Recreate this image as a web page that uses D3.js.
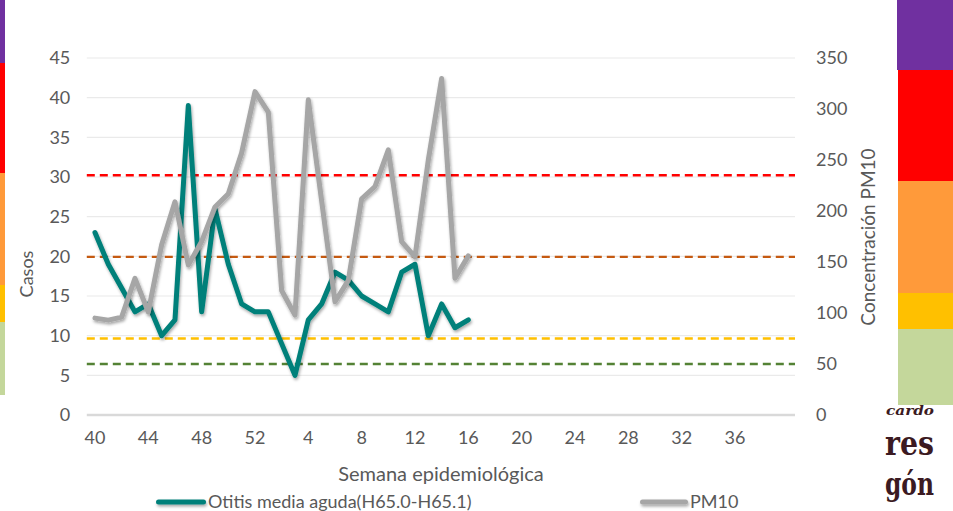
<!DOCTYPE html>
<html><head><meta charset="utf-8">
<script src="https://cdn.jsdelivr.net/npm/d3@7"></script>
<style>
body{margin:0;background:#fff;}
svg{display:block;font-family:Lato, "Open Sans", sans-serif;}
</style></head>
<body>
<svg id="chart" width="953" height="511"></svg>
<script>
// ---- data ----
const weeks = [40,41,42,43,44,45,46,47,48,49,50,51,52,
  1,2,3,4,5,6,7,8,9,10,11,12,13,14,15,16,17,18,19,20,21,22,23,24,25,26,27,28,29,30,31,32,33,34,35,36,37,38,39,40];
const otitis = [23,19,16,13,14,10,12,39,13,26,19,14,13,
  13,9,5,12,14,18,17,15,14,13,18,19,10,14,11,12];
const pm10 = [95,93,96,134,101,167,209,147,170,204,217,257,317,
  297,122,98,309,210,111,132,212,224,260,170,155,250,330,134,156];
const leftTicks = [0,5,10,15,20,25,30,35,40,45];
const rightTicks = [0,50,100,150,200,250,300,350];
const thresholds = [235,155,75,50]; // PM10 reference lines
const thresholdColors = ["#FF0000","#C55A11","#FFC000","#548235"];
const bandColors = ["#7030A0","#FF0000","#FF9A3A","#FFC000","#C4D79B"];
const leftBands = [0,63,173,285,322,395];
const rightBands = [0,70,181,293,329,405];
const seriesNames = ["Otitis media aguda(H65.0-H65.1)","PM10"];

const svg = d3.select("#chart");
const M = {left:88.3, right:795, top:58, bottom:415};

const x = d3.scaleBand().domain(d3.range(weeks.length)).range([M.left, M.right]).padding(0);
const yL = d3.scaleLinear().domain([0,45]).range([M.bottom, M.top]);
const yR = d3.scaleLinear().domain([0,350]).range([M.bottom, M.top]);
const cx = i => x(i) + x.bandwidth()/2;

// side colour strips
leftBands.slice(0,-1).forEach((b,i)=>{
  svg.append("rect").attr("x",0).attr("y",b).attr("width",5).attr("height",leftBands[i+1]-b).attr("fill",bandColors[i]);
});
rightBands.slice(0,-1).forEach((b,i)=>{
  svg.append("rect").attr("x",i===0?897:898).attr("y",b).attr("width",i===0?56:55).attr("height",rightBands[i+1]-b).attr("fill",bandColors[i]);
});

// defs: shadow
const defs = svg.append("defs");
const f = defs.append("filter").attr("id","sh").attr("filterUnits","userSpaceOnUse")
  .attr("x",0).attr("y",0).attr("width",953).attr("height",511);
f.append("feDropShadow").attr("dx",1).attr("dy",2).attr("stdDeviation",1.6).attr("flood-color","#000").attr("flood-opacity",0.35);

// gridlines
svg.append("g").selectAll("line").data(leftTicks.filter(d=>d>0)).join("line")
  .attr("x1",M.left-1.5).attr("x2",M.right).attr("y1",d=>yL(d)).attr("y2",d=>yL(d))
  .attr("stroke","#EAEAEA").attr("stroke-width",1.2);
svg.append("line").attr("x1",M.left-1.5).attr("x2",M.right).attr("y1",yL(0)).attr("y2",yL(0))
  .attr("stroke","#D9D9D9").attr("stroke-width",2.5);

// threshold dashed lines
svg.append("g").selectAll("line").data(thresholds).join("line")
  .attr("x1",M.left-1.5).attr("x2",M.right).attr("y1",d=>yR(d)).attr("y2",d=>yR(d))
  .attr("stroke",(d,i)=>thresholdColors[i]).attr("stroke-width",2.4).attr("stroke-dasharray","8,5");

// axes
const axL = d3.axisLeft(yL).tickValues(leftTicks).tickSize(0).tickPadding(0);
const gL = svg.append("g").attr("transform",`translate(${M.left-18},0)`).call(axL);
const axR = d3.axisRight(yR).tickValues(rightTicks).tickSize(0).tickPadding(0);
const gR = svg.append("g").attr("transform",`translate(${M.right+21},0)`).call(axR);
const axB = d3.axisBottom(x).tickValues(d3.range(0,weeks.length-1,4)).tickFormat(i=>weeks[i]).tickSize(0).tickPadding(0);
const gB = svg.append("g").attr("transform",`translate(0,${M.bottom+16})`).call(axB);
[gL,gR,gB].forEach(g=>{
  g.select(".domain").remove();
  g.selectAll("text").attr("fill","#595959").attr("font-size",18).attr("font-family","Lato, sans-serif");
});
gB.selectAll("text").attr("dy","0.71em");

// axis titles
svg.append("text").attr("transform","translate(33,274) rotate(-90)").attr("text-anchor","middle")
  .attr("fill","#595959").attr("font-size",18).text("Casos");
svg.append("text").attr("transform","translate(875,237) rotate(-90)").attr("text-anchor","middle")
  .attr("fill","#595959").attr("font-size",19).text("Concentración PM10");
svg.append("text").attr("x",441).attr("y",481).attr("text-anchor","middle")
  .attr("fill","#595959").attr("font-size",20).text("Semana epidemiológica");

// series
const lineL = d3.line().x((d,i)=>cx(i)).y(d=>yL(d));
const lineR = d3.line().x((d,i)=>cx(i)).y(d=>yR(d));
svg.append("path").datum(otitis).attr("d",lineL).attr("fill","none")
  .attr("stroke","#00807A").attr("stroke-width",5).attr("stroke-linejoin","round").attr("stroke-linecap","round").attr("filter","url(#sh)");
svg.append("path").datum(pm10).attr("d",lineR).attr("fill","none")
  .attr("stroke","#A6A6A6").attr("stroke-width",5).attr("stroke-linejoin","round").attr("stroke-linecap","round").attr("filter","url(#sh)");

// legend
const leg = [{x1:156,x2:206,tx:208,c:"#00807A",t:seriesNames[0]},{x1:640,x2:688,tx:690,c:"#A6A6A6",t:seriesNames[1]}];
leg.forEach(l=>{
  svg.append("rect").attr("x",l.x1).attr("y",499.5).attr("width",l.x2-l.x1).attr("height",5).attr("rx",2.5)
    .attr("fill",l.c).attr("filter","url(#sh)");
  svg.append("text").attr("x",l.tx).attr("y",508).attr("fill","#595959").attr("font-size",18).text(l.t);
});

// logo fragment (bottom right)
const logo = svg.append("g").attr("fill","#3B1A22").attr("font-family","'DejaVu Serif', serif").attr("font-weight","bold");
logo.append("text").attr("x",886).attr("y",415).attr("font-size",13).attr("font-style","italic")
  .attr("textLength",48).attr("lengthAdjust","spacingAndGlyphs").text("cardo");
logo.append("text").attr("x",885).attr("y",455).attr("font-size",34)
  .attr("textLength",49).attr("lengthAdjust","spacingAndGlyphs").text("res");
logo.append("text").attr("x",885).attr("y",495).attr("font-size",32)
  .attr("textLength",49).attr("lengthAdjust","spacingAndGlyphs").text("gón");
</script>
</body></html>
